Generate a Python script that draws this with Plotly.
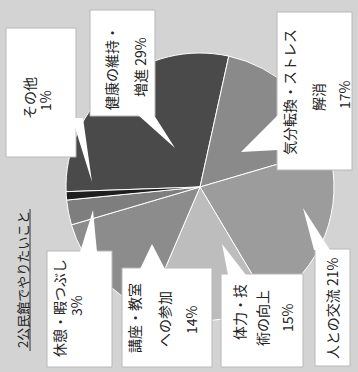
import plotly.graph_objects as go

# chart data (picture is a pie chart turned 90 degrees counter-clockwise)
categories = ["健康の維持・増進", "気分転換・ストレス解消", "人との交流", "体力・技術の向上",
              "講座・教室への参加", "休憩・暇つぶし", "その他"]
values = [29, 17, 21, 15, 14, 3, 1]
colors = ["#4a4a4a", "#8a8a8a", "#9c9c9c", "#bdbdbd", "#8c8c8c", "#7e7e7e", "#1e1e1e"]
label_lines = [
    ["健康の維持・", "増進 29%"],
    ["気分転換・ストレス", "解消", "17%"],
    ["人との交流 21%"],
    ["体力・技", "術の向上", "15%"],
    ["講座・教室", "への参加", "14%"],
    ["休憩・暇つぶし", "3%"],
    ["その他", "1%"],
]
title = "2公民館でやりたいこと"

W, H = 358, 372


def px(x, y):
    # image pixel -> paper coords
    return x / W, 1 - y / H


# callout layout in pixels: box (x0, y0, x1, y1), pointer triangle, line centres
callouts = [
    dict(box=(90, 10, 155, 116), tri=[(138, 115), (154, 115), (175, 148)],
         pos=[(111, 68), (140, 67)]),
    dict(box=(277, 12, 352, 170), tri=[(278, 115), (278, 150), (241, 152)],
         pos=[(289, 92), (318, 97), (344, 95)]),
    dict(box=(315, 249, 350, 366), tri=[(314, 250), (330, 250), (303, 208)],
         pos=[(332, 308)]),
    dict(box=(221, 274, 303, 367), tri=[(228, 275), (246, 275), (222, 244)],
         pos=[(239, 312), (262, 318), (287, 318)]),
    dict(box=(122, 268, 212, 367), tri=[(140, 269), (165, 269), (152, 244)],
         pos=[(134, 318), (164, 319), (191, 320)]),
    dict(box=(47, 251, 112, 367), tri=[(80, 252), (97, 252), (93, 210)],
         pos=[(59, 308), (76, 306)]),
    dict(box=(6, 28, 76, 157), tri=[(72, 118), (83, 118), (92, 182)],
         pos=[(29, 98), (45, 101)]),
]

fig = go.Figure()

# pie centre ~(200,187) px, radius ~134 px
cx, cy, r = 200, 187, 134
x0, y0 = px(cx - r, cy + r)
x1, y1 = px(cx + r, cy - r)
fig.add_trace(go.Pie(
    labels=categories,
    values=values,
    sort=False,
    direction="clockwise",
    rotation=268,
    marker=dict(colors=colors, line=dict(color="white", width=1)),
    textinfo="none",
    hoverinfo="label+percent",
    showlegend=False,
    domain=dict(x=[x0, x1], y=[y0, y1]),
))

shapes = []
annotations = []
font = dict(family="Noto Sans CJK JP", size=14, color="#222222")

for c, lines in zip(callouts, label_lines):
    bx0, by0, bx1, by1 = c["box"]
    a0, b0 = px(bx0, by1)
    a1, b1 = px(bx1, by0)
    shapes.append(dict(type="rect", xref="paper", yref="paper", x0=a0, y0=b0, x1=a1, y1=b1,
                       fillcolor="white", line=dict(color="#b8b8b8", width=1), layer="above"))
    pts = [px(x, y) for x, y in c["tri"]]
    path = "M " + " L ".join(f"{p[0]:.4f},{p[1]:.4f}" for p in pts) + " Z"
    shapes.append(dict(type="path", xref="paper", yref="paper", path=path,
                       fillcolor="white", line=dict(width=0), layer="above"))
    for (tx, ty), txt in zip(c["pos"], lines):
        ax, ay = px(tx, ty)
        annotations.append(dict(x=ax, y=ay, xref="paper", yref="paper", text=txt,
                                textangle=-90, showarrow=False, font=font,
                                xanchor="center", yanchor="middle"))

# title with underline (rotated)
tx, ty = px(22, 280)
annotations.append(dict(x=tx, y=ty, xref="paper", yref="paper", text=title, textangle=-90,
                        showarrow=False, xanchor="center", yanchor="middle",
                        font=dict(family="Noto Sans CJK JP", size=13, color="#222222")))
ux, uy0 = px(30, 209)
_, uy1 = px(30, 351)
shapes.append(dict(type="line", xref="paper", yref="paper", x0=ux, x1=ux, y0=uy0, y1=uy1,
                   line=dict(color="#333333", width=1)))

fig.update_layout(
    width=W,
    height=H,
    margin=dict(l=0, r=0, t=0, b=0),
    paper_bgcolor="#d3d3d3",
    plot_bgcolor="#d3d3d3",
    shapes=shapes,
    annotations=annotations,
)

fig.write_html("out.html", config={"displayModeBar": False},
               post_script="document.body.style.margin='0px';")
